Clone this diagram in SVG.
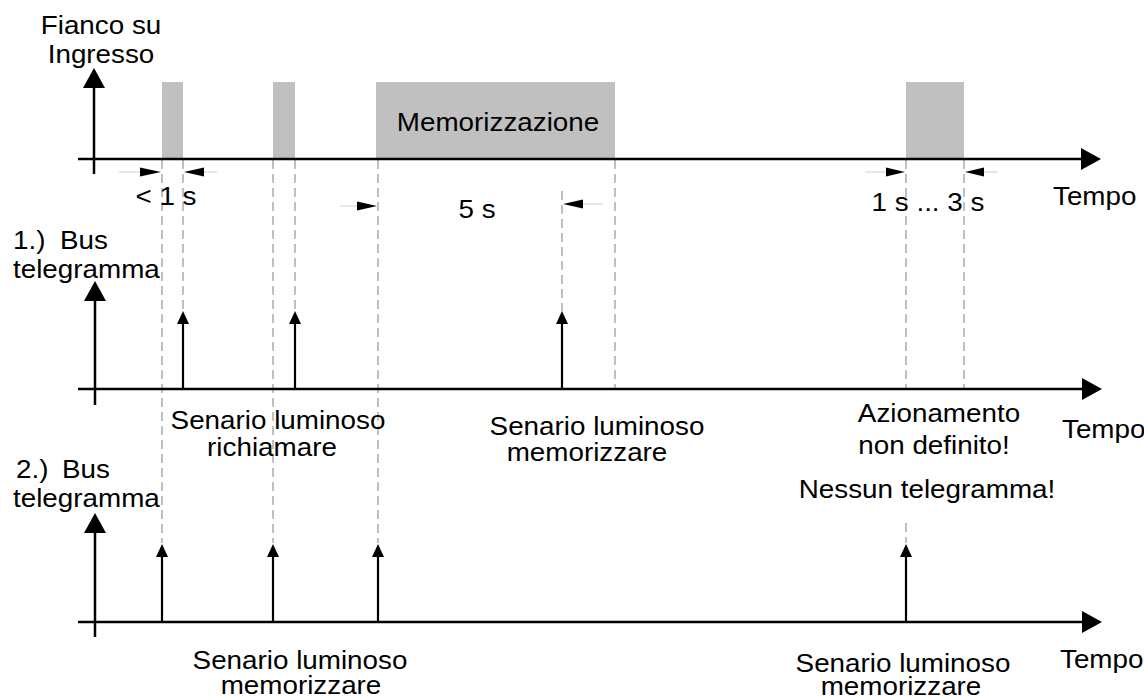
<svg xmlns="http://www.w3.org/2000/svg" width="1144" height="696" viewBox="0 0 1144 696">
<style>
.t{font-family:"Liberation Sans",Arial,sans-serif;font-size:26px;fill:#000}
.m{text-anchor:middle}
.ax{stroke:#000;stroke-width:2.5;fill:none}
.pa{stroke:#000;stroke-width:2.2;fill:none}
.dash{stroke:#808080;stroke-width:1;stroke-dasharray:9 5;fill:none}
.tail{stroke:#d0d0d0;stroke-width:1;fill:none}
.pulse{fill:#c0c0c0}
.hd{fill:#000}
</style>
<defs>
<marker id="big" markerUnits="userSpaceOnUse" markerWidth="20" markerHeight="22" viewBox="0 0 20 22" refX="1" refY="11" orient="auto"><path d="M0,0 L20,11 L0,22 z" fill="#000"/></marker>
<marker id="small" markerUnits="userSpaceOnUse" markerWidth="13" markerHeight="12" viewBox="0 0 13 12" refX="1" refY="6" orient="auto"><path d="M0,0 L13,6 L0,12 z" fill="#000"/></marker>
</defs>
<rect width="1144" height="696" fill="#fff"/>

<g id="pulses">
<rect class="pulse" x="162" y="82" width="21" height="77"/>
<rect class="pulse" x="273" y="82" width="22" height="77"/>
<rect class="pulse" x="376" y="82" width="239" height="77"/>
<rect class="pulse" x="906" y="82" width="58" height="77"/>
</g>

<g id="guides">
<line class="dash" x1="162" y1="160" x2="162" y2="543"/>
<line class="dash" x1="183" y1="160" x2="183" y2="311"/>
<line class="dash" x1="273" y1="160" x2="273" y2="543"/>
<line class="dash" x1="295" y1="160" x2="295" y2="311"/>
<line class="dash" x1="378" y1="160" x2="378" y2="543"/>
<line class="dash" x1="562" y1="191" x2="562" y2="311"/>
<line class="dash" x1="615" y1="160" x2="615" y2="389"/>
<line class="dash" x1="906" y1="160" x2="906" y2="389"/>
<line class="dash" x1="964" y1="160" x2="964" y2="389"/>
<line class="dash" x1="906" y1="523" x2="906" y2="543"/>
</g>

<g id="connectors">
<line class="ax" x1="78" y1="159" x2="1082" y2="159" marker-end="url(#big)"/>
<line class="ax" x1="94" y1="174" x2="94" y2="87" marker-end="url(#big)"/>
<line class="ax" x1="78" y1="389" x2="1083" y2="389" marker-end="url(#big)"/>
<line class="ax" x1="95" y1="405" x2="95" y2="300" marker-end="url(#big)"/>
<line class="ax" x1="78" y1="622" x2="1083" y2="622" marker-end="url(#big)"/>
<line class="ax" x1="95" y1="637" x2="95" y2="532" marker-end="url(#big)"/>
<line class="pa" x1="183" y1="389" x2="183" y2="323" marker-end="url(#small)"/>
<line class="pa" x1="295" y1="389" x2="295" y2="323" marker-end="url(#small)"/>
<line class="pa" x1="562" y1="389" x2="562" y2="323" marker-end="url(#small)"/>
<line class="pa" x1="162" y1="622" x2="162" y2="556" marker-end="url(#small)"/>
<line class="pa" x1="273" y1="622" x2="273" y2="556" marker-end="url(#small)"/>
<line class="pa" x1="378" y1="622" x2="378" y2="556" marker-end="url(#small)"/>
<line class="pa" x1="906" y1="622" x2="906" y2="556" marker-end="url(#small)"/>
</g>

<g id="dimensions">
<line class="tail" x1="119" y1="172" x2="141" y2="172"/>
<polygon class="hd" points="140,167.5 161,172 140,176.5"/>
<line class="tail" x1="202" y1="172" x2="217" y2="172"/>
<polygon class="hd" points="204,167.5 184,172 204,176.5"/>
<line class="tail" x1="340" y1="206" x2="358" y2="206"/>
<polygon class="hd" points="357,201.5 377,206 357,210.5"/>
<line class="tail" x1="582" y1="204" x2="603" y2="204"/>
<polygon class="hd" points="583,199.5 563,204 583,208.5"/>
<line class="tail" x1="865" y1="172" x2="887" y2="172"/>
<polygon class="hd" points="886,167.5 905,172 886,176.5"/>
<line class="tail" x1="983" y1="172" x2="998" y2="172"/>
<polygon class="hd" points="984,167.5 965,172 984,176.5"/>
</g>

<g id="labels">
<text class="t m" transform="translate(101,34) scale(1.07,1)">Fianco su</text>
<text class="t m" transform="translate(101,63) scale(1.07,1)">Ingresso</text>
<text class="t m" transform="translate(498,131) scale(1.07,1)">Memorizzazione</text>
<text class="t m" transform="translate(166,205) scale(1.07,1)">&lt; 1 s</text>
<text class="t m" transform="translate(477,218) scale(1.07,1)">5 s</text>
<text class="t m" transform="translate(928,211) scale(1.07,1)">1 s ... 3 s</text>
<text class="t" transform="translate(1053,205) scale(1.07,1)">Tempo</text>
<text class="t" transform="translate(13,249) scale(1.07,1)">1.)<tspan x="44">Bus</tspan></text>
<text class="t" transform="translate(13,278) scale(1.07,1)">telegramma</text>
<text class="t m" transform="translate(278,429) scale(1.07,1)">Senario luminoso</text>
<text class="t m" transform="translate(272,456) scale(1.07,1)">richiamare</text>
<text class="t m" transform="translate(597,435) scale(1.07,1)">Senario luminoso</text>
<text class="t m" transform="translate(587,461) scale(1.07,1)">memorizzare</text>
<text class="t m" transform="translate(939,422) scale(1.07,1)">Azionamento</text>
<text class="t m" transform="translate(934,454) scale(1.07,1)">non definito!</text>
<text class="t" transform="translate(1062,438) scale(1.07,1)">Tempo</text>
<text class="t m" transform="translate(927,498) scale(1.07,1)">Nessun telegramma!</text>
<text class="t" transform="translate(16,478) scale(1.07,1)">2.)<tspan x="43">Bus</tspan></text>
<text class="t" transform="translate(13,507) scale(1.07,1)">telegramma</text>
<text class="t m" transform="translate(300,669) scale(1.07,1)">Senario luminoso</text>
<text class="t m" transform="translate(301,694) scale(1.07,1)">memorizzare</text>
<text class="t m" transform="translate(903,672) scale(1.07,1)">Senario luminoso</text>
<text class="t m" transform="translate(901,695) scale(1.07,1)">memorizzare</text>
<text class="t" transform="translate(1060,668) scale(1.07,1)">Tempo</text>
</g>
</svg>
